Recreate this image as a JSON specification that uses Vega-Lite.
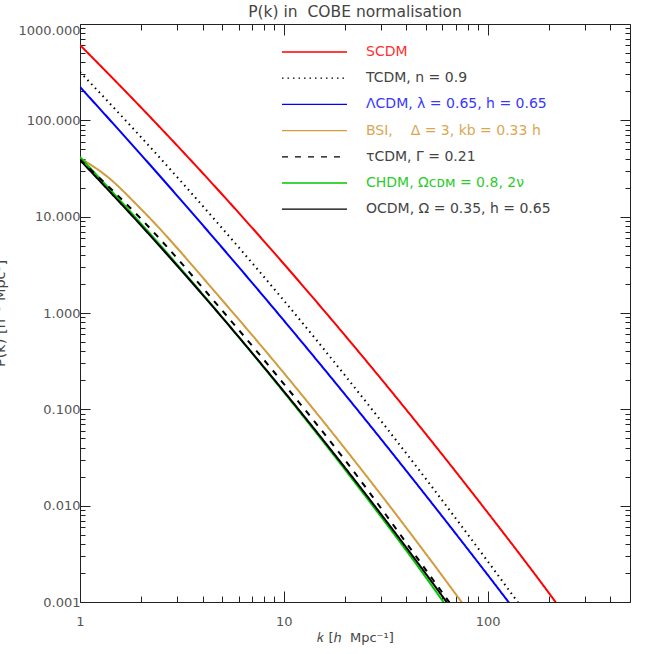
{
  "$schema": "https://vega.github.io/schema/vega-lite/v6.json",
  "width": 550,
  "height": 578,
  "autosize": {"type": "none"},
  "padding": {"left": 80, "top": 24, "right": 24, "bottom": 52},
  "background": "white",
  "config": {
    "view": {"stroke": "#222222", "strokeWidth": 1},
    "axis": {
      "domain": false,
      "grid": false,
      "labelFont": "DejaVu Sans",
      "labelFontSize": 13,
      "labelColor": "#555555",
      "tickColor": "#222222",
      "tickWidth": 1,
      "labelOverlap": false,
      "labelFlush": false,
      "titleFont": "DejaVu Sans",
      "titleFontSize": 13,
      "titleFontWeight": "normal",
      "titleColor": "#444444"
    },
    "title": {"font": "DejaVu Sans", "fontSize": 15.5, "fontWeight": "normal", "color": "#444444"}
  },
  "title": {"text": "P(k) in\u00a0\u00a0COBE normalisation", "offset": 2, "anchor": "middle"},
  "data": {
    "values": [
      {"model": "SCDM", "k": 1, "P": 605},
      {"model": "SCDM", "k": 2, "P": 135},
      {"model": "SCDM", "k": 5, "P": 16.9},
      {"model": "SCDM", "k": 10, "P": 3.24},
      {"model": "SCDM", "k": 20, "P": 0.583},
      {"model": "SCDM", "k": 50, "P": 0.0548},
      {"model": "SCDM", "k": 100, "P": 0.00851},
      {"model": "SCDM", "k": 200, "P": 0.00124},
      {"model": "SCDM", "k": 250, "P": 0.00065},
      {"model": "TCDM, n = 0.9", "k": 1, "P": 318},
      {"model": "TCDM, n = 0.9", "k": 2, "P": 66.4},
      {"model": "TCDM, n = 0.9", "k": 5, "P": 7.53},
      {"model": "TCDM, n = 0.9", "k": 10, "P": 1.35},
      {"model": "TCDM, n = 0.9", "k": 20, "P": 0.224},
      {"model": "TCDM, n = 0.9", "k": 50, "P": 0.01875},
      {"model": "TCDM, n = 0.9", "k": 100, "P": 0.00266},
      {"model": "TCDM, n = 0.9", "k": 163, "P": 0.00065},
      {"model": "ΛCDM, λ = 0.65, h = 0.65", "k": 1, "P": 222},
      {"model": "ΛCDM, λ = 0.65, h = 0.65", "k": 2, "P": 43.6},
      {"model": "ΛCDM, λ = 0.65, h = 0.65", "k": 5, "P": 4.73},
      {"model": "ΛCDM, λ = 0.65, h = 0.65", "k": 10, "P": 0.838},
      {"model": "ΛCDM, λ = 0.65, h = 0.65", "k": 20, "P": 0.142},
      {"model": "ΛCDM, λ = 0.65, h = 0.65", "k": 50, "P": 0.0126},
      {"model": "ΛCDM, λ = 0.65, h = 0.65", "k": 100, "P": 0.00192},
      {"model": "ΛCDM, λ = 0.65, h = 0.65", "k": 148, "P": 0.00065},
      {"model": "BSI,\u00a0\u00a0\u00a0\u00a0Δ = 3, kb = 0.33 h", "k": 1, "P": 40.6},
      {"model": "BSI,\u00a0\u00a0\u00a0\u00a0Δ = 3, kb = 0.33 h", "k": 1.35, "P": 26.4},
      {"model": "BSI,\u00a0\u00a0\u00a0\u00a0Δ = 3, kb = 0.33 h", "k": 2, "P": 11.9},
      {"model": "BSI,\u00a0\u00a0\u00a0\u00a0Δ = 3, kb = 0.33 h", "k": 5, "P": 1.35},
      {"model": "BSI,\u00a0\u00a0\u00a0\u00a0Δ = 3, kb = 0.33 h", "k": 10, "P": 0.239},
      {"model": "BSI,\u00a0\u00a0\u00a0\u00a0Δ = 3, kb = 0.33 h", "k": 20, "P": 0.0389},
      {"model": "BSI,\u00a0\u00a0\u00a0\u00a0Δ = 3, kb = 0.33 h", "k": 50, "P": 0.00313},
      {"model": "BSI,\u00a0\u00a0\u00a0\u00a0Δ = 3, kb = 0.33 h", "k": 86.5, "P": 0.00065},
      {"model": "CHDM, Ωᴄᴅᴍ = 0.8, 2ν", "k": 1, "P": 41.6},
      {"model": "CHDM, Ωᴄᴅᴍ = 0.8, 2ν", "k": 2, "P": 8.4},
      {"model": "CHDM, Ωᴄᴅᴍ = 0.8, 2ν", "k": 5, "P": 0.897},
      {"model": "CHDM, Ωᴄᴅᴍ = 0.8, 2ν", "k": 10, "P": 0.151},
      {"model": "CHDM, Ωᴄᴅᴍ = 0.8, 2ν", "k": 20, "P": 0.0236},
      {"model": "CHDM, Ωᴄᴅᴍ = 0.8, 2ν", "k": 50, "P": 0.00178},
      {"model": "CHDM, Ωᴄᴅᴍ = 0.8, 2ν", "k": 72, "P": 0.0006},
      {"model": "τCDM, Γ = 0.21", "k": 1, "P": 39},
      {"model": "τCDM, Γ = 0.21", "k": 2, "P": 9.42},
      {"model": "τCDM, Γ = 0.21", "k": 5, "P": 1.054},
      {"model": "τCDM, Γ = 0.21", "k": 10, "P": 0.184},
      {"model": "τCDM, Γ = 0.21", "k": 20, "P": 0.0296},
      {"model": "τCDM, Γ = 0.21", "k": 50, "P": 0.00213},
      {"model": "τCDM, Γ = 0.21", "k": 75, "P": 0.00065},
      {"model": "OCDM, Ω = 0.35, h = 0.65", "k": 1, "P": 38.7},
      {"model": "OCDM, Ω = 0.35, h = 0.65", "k": 2, "P": 8.04},
      {"model": "OCDM, Ω = 0.35, h = 0.65", "k": 5, "P": 0.891},
      {"model": "OCDM, Ω = 0.35, h = 0.65", "k": 10, "P": 0.154},
      {"model": "OCDM, Ω = 0.35, h = 0.65", "k": 20, "P": 0.0247},
      {"model": "OCDM, Ω = 0.35, h = 0.65", "k": 50, "P": 0.00194},
      {"model": "OCDM, Ω = 0.35, h = 0.65", "k": 73, "P": 0.00065}
    ]
  },
  "layer": [
    {
      "mark": {"type": "line", "clip": true, "strokeWidth": 2, "interpolate": "monotone"},
      "encoding": {
        "x": {
          "field": "k", "type": "quantitative",
          "scale": {"type": "log", "domain": [1, 500], "nice": false},
          "axis": {
            "orient": "bottom",
            "values": [1,2,3,4,5,6,7,8,9,10,20,30,40,50,60,70,80,90,100,200,300,400],
            "labelExpr": "indexof([1,10,100], datum.value) >= 0 ? '' + datum.value : ''",
            "tickSize": {"condition": {"test": "indexof([1,10,100], datum.value) >= 0", "value": -11}, "value": -6},
            "labelPadding": 24,
            "title": "𝑘 [ℎ\u00a0\u00a0Mpc⁻¹]",
            "titlePadding": -2
          }
        },
        "y": {
          "field": "P", "type": "quantitative",
          "scale": {"type": "log", "domain": [0.001, 1000], "nice": false},
          "axis": {
            "orient": "left",
            "values": [0.001,0.002,0.003,0.004,0.005,0.006,0.007,0.008,0.009,0.01,0.02,0.03,0.04,0.05,0.06,0.07,0.08,0.09,0.1,0.2,0.3,0.4,0.5,0.6,0.7,0.8,0.9,1,2,3,4,5,6,7,8,9,10,20,30,40,50,60,70,80,90,100,200,300,400,500,600,700,800,900,1000],
            "labelExpr": "indexof([0.001,0.01,0.1,1,10,100,1000], datum.value) >= 0 ? format(datum.value, '.3f') : ''",
            "tickSize": {"condition": {"test": "indexof([0.001,0.01,0.1,1,10,100,1000], datum.value) >= 0", "value": -10}, "value": -5},
            "labelPadding": 10,
            "labelBaseline": {"condition": {"test": "datum.value == 1000", "value": "top"}, "value": "middle"},
            "title": "P(k) [h⁻³ Mpc³]",
            "titleFontSize": 14.5,
            "titleX": -73,
            "titleY": 289,
            "titleAngle": -90,
            "titleBaseline": "bottom"
          }
        },
        "color": {
          "field": "model", "type": "nominal",
          "scale": {
            "domain": ["SCDM", "TCDM, n = 0.9", "ΛCDM, λ = 0.65, h = 0.65", "BSI,\u00a0\u00a0\u00a0\u00a0Δ = 3, kb = 0.33 h", "τCDM, Γ = 0.21", "CHDM, Ωᴄᴅᴍ = 0.8, 2ν", "OCDM, Ω = 0.35, h = 0.65"],
            "range": ["#ff0000", "#000000", "#0000ff", "#d29b3c", "#000000", "#00c800", "#000000"]
          },
          "legend": {
            "orient": "none", "legendX": 227, "legendY": 20.5, "padding": 0,
            "title": null,
            "symbolType": "M-5,0H5", "symbolSize": 169, "symbolStrokeWidth": 1.3,
            "labelFont": "DejaVu Sans", "labelFontSize": 14, "labelLimit": 400,
            "labelOffset": 44, "rowPadding": 11.2,
            "encode": {"labels": {"update": {"fill": {"signal": "indexof(datum.value,'SCDM')>=0 ? '#ff3030' : indexof(datum.value,'ΛCDM')>=0 ? '#3838ff' : indexof(datum.value,'BSI')>=0 ? '#daa750' : indexof(datum.value,'CHDM')>=0 ? '#2ccc2c' : '#444444'"}}}}
          }
        },
        "strokeDash": {
          "field": "model", "type": "nominal",
          "scale": {
            "domain": ["SCDM", "TCDM, n = 0.9", "ΛCDM, λ = 0.65, h = 0.65", "BSI,\u00a0\u00a0\u00a0\u00a0Δ = 3, kb = 0.33 h", "τCDM, Γ = 0.21", "CHDM, Ωᴄᴅᴍ = 0.8, 2ν", "OCDM, Ω = 0.35, h = 0.65"],
            "range": [[1, 0], [1.5, 4], [1, 0], [1, 0], [6, 7], [1, 0], [1, 0]]
          },
          "legend": {
            "orient": "none", "legendX": 227, "legendY": 20.5, "padding": 0,
            "title": null,
            "symbolType": "M-5,0H5", "symbolSize": 169, "symbolStrokeWidth": 1.3,
            "labelFont": "DejaVu Sans", "labelFontSize": 14, "labelLimit": 400,
            "labelOffset": 44, "rowPadding": 11.2,
            "encode": {"labels": {"update": {"fill": {"signal": "indexof(datum.value,'SCDM')>=0 ? '#ff3030' : indexof(datum.value,'ΛCDM')>=0 ? '#3838ff' : indexof(datum.value,'BSI')>=0 ? '#daa750' : indexof(datum.value,'CHDM')>=0 ? '#2ccc2c' : '#444444'"}}}}
          }
        }
      }
    },
    {
      "mark": {"type": "point", "opacity": 0, "clip": true},
      "encoding": {
        "x": {
          "field": "k", "type": "quantitative",
          "scale": {"type": "log", "domain": [1, 500], "nice": false},
          "axis": {
            "orient": "top",
            "values": [1,2,3,4,5,6,7,8,9,10,20,30,40,50,60,70,80,90,100,200,300,400],
            "labels": false,
            "tickSize": {"condition": {"test": "indexof([1,10,100], datum.value) >= 0", "value": -11}, "value": -6},
            "title": null
          }
        },
        "y": {
          "field": "P", "type": "quantitative",
          "scale": {"type": "log", "domain": [0.001, 1000], "nice": false},
          "axis": {
            "orient": "right",
            "values": [0.001,0.002,0.003,0.004,0.005,0.006,0.007,0.008,0.009,0.01,0.02,0.03,0.04,0.05,0.06,0.07,0.08,0.09,0.1,0.2,0.3,0.4,0.5,0.6,0.7,0.8,0.9,1,2,3,4,5,6,7,8,9,10,20,30,40,50,60,70,80,90,100,200,300,400,500,600,700,800,900,1000],
            "labels": false,
            "tickSize": {"condition": {"test": "indexof([0.001,0.01,0.1,1,10,100,1000], datum.value) >= 0", "value": -10}, "value": -5},
            "title": null
          }
        }
      }
    }
  ],
  "resolve": {"axis": {"x": "independent", "y": "independent"}}
}
